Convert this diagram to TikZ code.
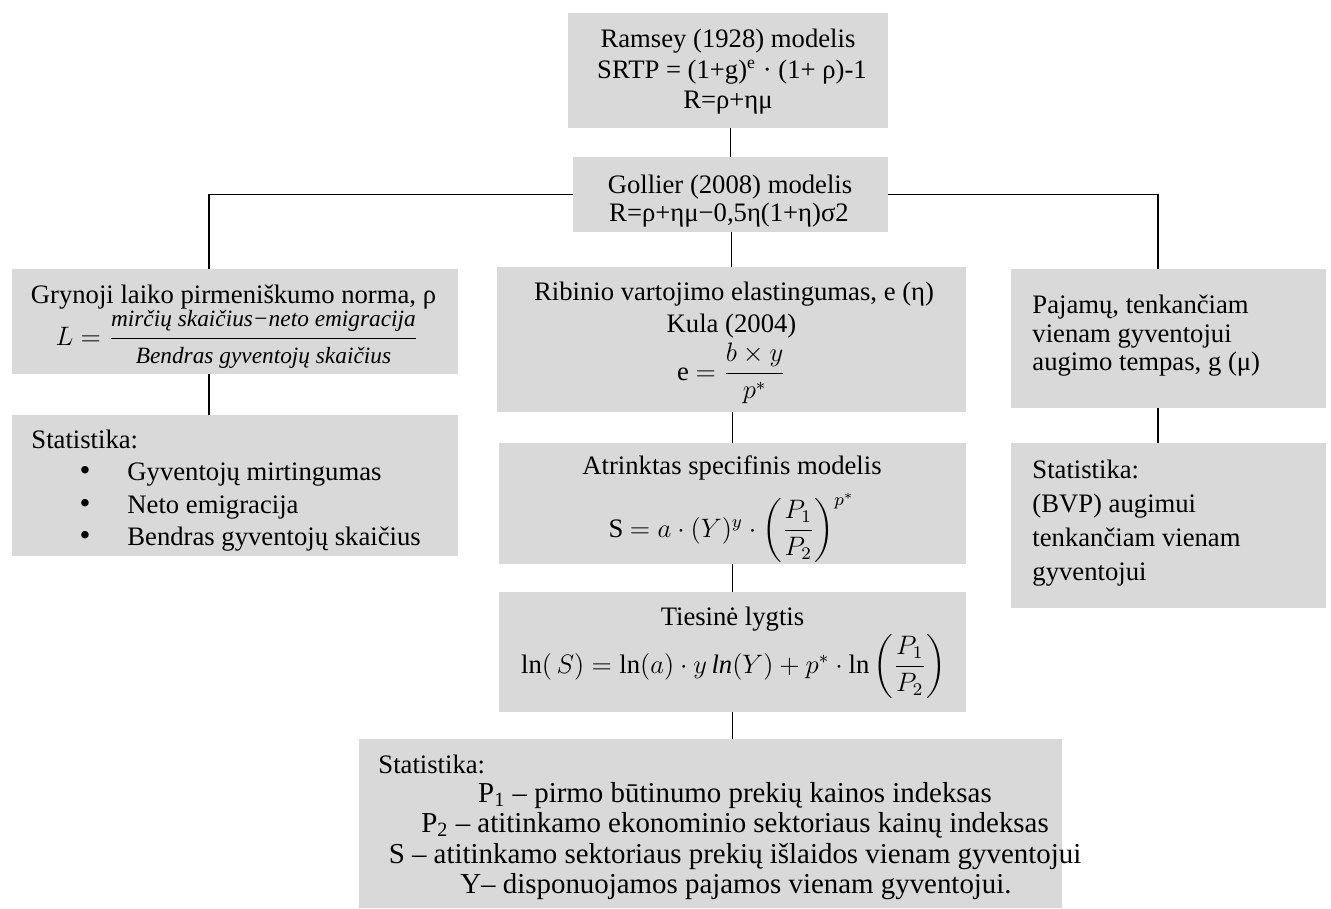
\documentclass[tikz,border=0pt]{standalone}
\usepackage{amsmath}
\usepackage{fontspec}
\setmainfont{Liberation Serif}
\usetikzlibrary{calc}
\definecolor{boxgray}{HTML}{D9D9D9}
\begin{document}
\begin{tikzpicture}[x=0.45pt,y=-0.45pt,
  bx/.style 2 args={fill=boxgray, draw=none, minimum width=#1, minimum height=#2, inner sep=0pt},
  tc/.style={anchor=base, inner sep=0pt, font=\fontsize{12}{14}\selectfont},
  tl/.style={anchor=base west, inner sep=0pt, font=\fontsize{12}{14}\selectfont},
  tb/.style={anchor=base, inner sep=0pt, font=\fontsize{13}{14}\selectfont},
  bul/.style={anchor=base, inner sep=0pt, font=\fontsize{14}{14}\selectfont},
  conn/.style={draw=black, line width=0.7pt}]
\useasboundingbox (0,0) rectangle (1331,909);

% boxes
\node[bx={144pt}{51.75pt}]     (ramsey)    at (728,70.5)    {};
\node[bx={141.75pt}{33.75pt}]  (gollier)   at (730.5,194.5) {};
\node[bx={200.7pt}{47.25pt}]   (grynoji)   at (235,321.5)   {};
\node[bx={200.7pt}{63.45pt}]   (stat1)     at (235,485.5)   {};
\node[bx={211.05pt}{65.25pt}]  (ribinio)   at (731.5,339.5) {};
\node[bx={210.15pt}{54.45pt}]  (atrinktas) at (732.5,503.5) {};
\node[bx={210.15pt}{54pt}]     (tiesine)   at (732.5,652)   {};
\node[bx={316.35pt}{76.05pt}]  (bottom)    at (710.5,823.5) {};
\node[bx={141.75pt}{62.55pt}]  (pajamu)    at (1168.5,338.5){};
\node[bx={141.75pt}{74.25pt}]  (stat3)     at (1168.5,525.5){};

% Ramsey
\node[tc] (ramsey-a) at (728,47)  {Ramsey (1928) modelis};
\node[tc] (ramsey-b) at (732,78)  {SRTP = (1+g)\textsuperscript{e} · (1+ ρ)-1};
\node[tc] (ramsey-c) at (728,108) {R=ρ+ημ};

% Gollier
\node[tc] (gollier-a) at (730,193) {Gollier (2008) modelis};
\node[tc] (gollier-b) at (729,221) {R=ρ+ημ−0,5η(1+η)σ2};

% Grynoji
\node[tc] (grynoji-a) at (233.5,303) {Grynoji laiko pirmeniškumo norma, ρ};
\node[tc] (grynoji-b) at (237,345)
  {$L = \dfrac{\text{\fontsize{10.5}{12}\selectfont\itshape mirčių skaičius−neto emigracija}}{\text{\fontsize{10.5}{12}\selectfont\itshape Bendras gyventojų skaičius}}$};

% Statistika (left)
\node[tl]  (stat1-a)  at (31,448)  {Statistika:};
\node[bul] (stat1-b1) at (85,480)  {•};
\node[tl]  (stat1-b)  at (127,480) {Gyventojų mirtingumas};
\node[bul] (stat1-c1) at (85,513)  {•};
\node[tl]  (stat1-c)  at (127,513) {Neto emigracija};
\node[bul] (stat1-d1) at (85,545)  {•};
\node[tl]  (stat1-d)  at (127,545) {Bendras gyventojų skaičius};

% Ribinio
\node[tc] (ribinio-a) at (734,300)   {Ribinio vartojimo elastingumas, e (η)};
\node[tc] (ribinio-b) at (731.5,332) {Kula (2004)};
\node[tc] (ribinio-c) at (731.5,380) {e $= \dfrac{b\times y}{p^{*}}$};

% Atrinktas
\node[tc] (atrinktas-a) at (732,474)   {Atrinktas specifinis modelis};
\node[tc] (atrinktas-b) at (731.5,537) {S $= a\cdot(Y)^{y}\cdot\biggl(\dfrac{P_1}{P_2}\biggr)^{p^{*}}$};

% Tiesine
\node[tc] (tiesine-a) at (732.5,625) {Tiesinė lygtis};
\node[tc] (tiesine-b) at (733.5,673)
  {$\ln(\,S) = \ln(a)\cdot y\,\mathit{ln}(Y) + p^{*}\cdot\ln\,\biggl(\dfrac{P_1}{P_2}\biggr)$};

% Bottom statistika
\node[tl] (bottom-a) at (378,773) {Statistika:};
\node[tb] (bottom-b) at (735,802) {P\textsubscript{1} – pirmo būtinumo prekių kainos indeksas};
\node[tb] (bottom-c) at (735,832) {P\textsubscript{2} – atitinkamo ekonominio sektoriaus kainų indeksas};
\node[tb] (bottom-d) at (735,863) {S – atitinkamo sektoriaus prekių išlaidos vienam gyventojui};
\node[tb] (bottom-e) at (736,893) {Y– disponuojamos pajamos vienam gyventojui.};

% Pajamu
\node[tl] (pajamu-a) at (1032,313) {Pajamų, tenkančiam};
\node[tl] (pajamu-b) at (1032,342) {vienam gyventojui};
\node[tl] (pajamu-c) at (1032,370) {augimo tempas, g (μ)};

% Statistika (right)
\node[tl] (stat3-a) at (1032,478) {Statistika:};
\node[tl] (stat3-b) at (1032,512) {(BVP) augimui};
\node[tl] (stat3-c) at (1032,546) {tenkančiam vienam};
\node[tl] (stat3-d) at (1032,580) {gyventojui};

% connectors
\draw[conn] (gollier.north |- ramsey.south) -- (gollier.north);
\draw[conn] (gollier.west) -| ($(grynoji.north west)!0.442!(grynoji.north east)$);
\draw[conn] ($(grynoji.south west)!0.442!(grynoji.south east)$) -- ($(stat1.north west)!0.442!(stat1.north east)$);
\draw[conn] (gollier.east) -| ($(pajamu.north west)!0.4667!(pajamu.north east)$);
\draw[conn] ($(pajamu.south west)!0.4667!(pajamu.south east)$) -- ($(stat3.north west)!0.4667!(stat3.north east)$);
\draw[conn] (ribinio.north |- gollier.south) -- (ribinio.north);
\draw[conn] (atrinktas.north |- ribinio.south) -- (atrinktas.north);
\draw[conn] (tiesine.north |- atrinktas.south) -- (tiesine.north);
\draw[conn] (tiesine.south) -- (tiesine.south |- bottom.north);
\end{tikzpicture}
\end{document}
